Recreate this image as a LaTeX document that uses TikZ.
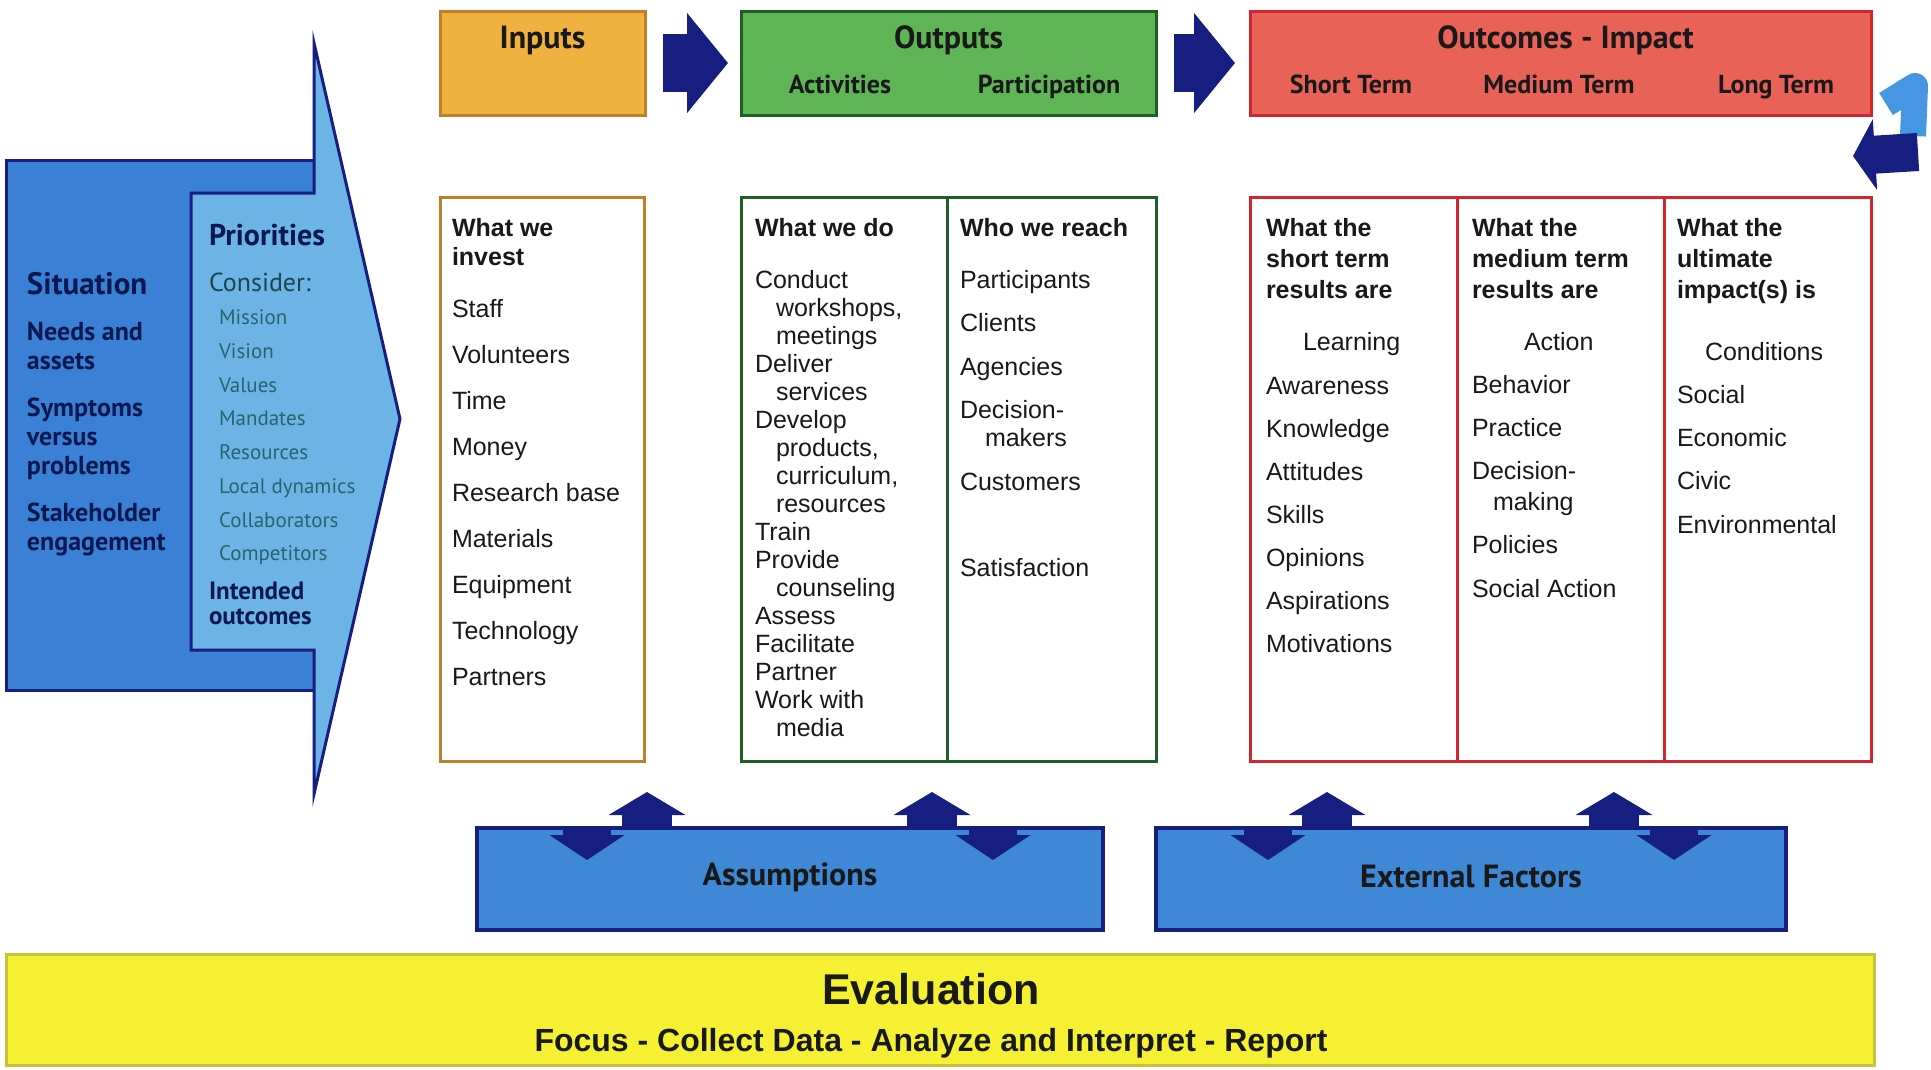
\documentclass[tikz,border=0pt]{standalone}
\usepackage{fontspec}
\setmainfont{Liberation Sans}
\newfontfamily\myriad{PT Sans}
\usepackage{xcolor}
\usepackage{tikz}
\usetikzlibrary{positioning, arrows.meta}

\definecolor{navy}{RGB}{22,30,128}
\definecolor{sitblue}{RGB}{58,128,212}
\definecolor{prioblue}{RGB}{108,180,230}
\definecolor{sittext}{RGB}{12,24,80}
\definecolor{prioitem}{RGB}{38,100,110}
\definecolor{infill}{RGB}{240,178,62}
\definecolor{inbord}{RGB}{190,128,40}
\definecolor{outfill}{RGB}{95,180,85}
\definecolor{outbord}{RGB}{28,96,38}
\definecolor{outcfill}{RGB}{232,98,88}
\definecolor{outcbord}{RGB}{205,40,48}
\definecolor{factblue}{RGB}{62,136,214}
\definecolor{turnlight}{RGB}{70,150,225}
\definecolor{evalfill}{RGB}{245,240,50}
\definecolor{evalbord}{RGB}{200,195,60}

\newcommand{\colindent}[1]{\hspace*{#1pt}}

\begin{document}
\begin{tikzpicture}[
    x=1pt, y=-1pt,
    every node/.style={inner sep=0pt, outer sep=0pt, text=black!90},
    hdrbox/.style={draw, line width=3pt, minimum height=104pt, anchor=north west},
    colbox/.style={draw, line width=3pt, fill=white, minimum height=564pt, anchor=north west},
    coltext/.style={anchor=north west, align=left, font=\fontsize{25}{28}\selectfont},
    ttl/.style={font=\myriad\bfseries\fontsize{32}{36}\selectfont},
    subttl/.style={anchor=base, font=\myriad\bfseries\fontsize{26}{30}\selectfont},
    factbox/.style={draw=navy, line width=4pt, fill=factblue, minimum height=102pt, anchor=north west},
    blockarrow/.style={navy, line width=58pt, -{Triangle[length=41pt,width=98pt]}},
    uparrow/.style={navy, line width=50pt, -{Triangle[length=23pt,width=76pt]}},
    downarrow/.style={navy, line width=48pt, -{Triangle[length=25pt,width=74pt]}}
]
\useasboundingbox (0,0) rectangle (1931,1069);

% situation and priorities
\node[draw=navy, line width=3pt, fill=sitblue, minimum width=308pt, minimum height=530pt, anchor=north west] (situation) at (6,160) {};
\draw[navy, line width=3pt, fill=prioblue] (191,193) -- (314,193) -- (314,43) -- (400,419)
    -- (314,794) -- (314,650) -- (191,650) -- cycle;

\node[anchor=base west, text=sittext, font=\myriad\bfseries\fontsize{31}{34}\selectfont] (sitttl) at (27,294) {Situation};
\node[anchor=north west, align=left, text=sittext, font=\myriad\bfseries\fontsize{26}{29}\selectfont] (sititems) at (27,322)
    {Needs and\\assets\\[18pt]Symptoms\\versus\\problems\\[18pt]Stakeholder\\engagement};

\node[anchor=base west, text=sittext, font=\myriad\bfseries\fontsize{30}{34}\selectfont] (priottl) at (209,245) {Priorities};
\node[anchor=base west, text=prioitem!70!black, font=\myriad\fontsize{26}{30}\selectfont] (consider) at (209,291) {Consider:};
\node[anchor=north west, align=left, text=prioitem, font=\myriad\fontsize{21}{33.7}\selectfont] (prioitems) at (219,310)
    {Mission\\Vision\\Values\\Mandates\\Resources\\Local dynamics\\Collaborators\\Competitors};
\node[anchor=north west, align=left, text=sittext, font=\myriad\bfseries\fontsize{25}{25}\selectfont] (intended) at (209,582)
    {Intended\\outcomes};

% header row
\node[hdrbox, fill=infill, draw=inbord, minimum width=205pt] (inhead) at (440,11) {};
\node[hdrbox, fill=outfill, draw=outbord, minimum width=415pt] (outhead) at (741,11) {};
\node[hdrbox, fill=outcfill, draw=outcbord, minimum width=621pt] (outchead) at (1250,11) {};

\node[ttl, anchor=base] at ([yshift=-37pt]inhead.north) {Inputs};
\node[ttl, anchor=base] at ([yshift=-37pt]outhead.north) {Outputs};
\node[subttl] at ([xshift=99pt, yshift=-82pt]outhead.north west) {Activities};
\node[subttl] at ([xshift=308pt, yshift=-82pt]outhead.north west) {Participation};
\node[ttl, anchor=base] at ([xshift=5pt, yshift=-37pt]outchead.north) {Outcomes - Impact};
\node[subttl] at ([xshift=101pt, yshift=-82pt]outchead.north west) {Short Term};
\node[subttl] at ([xshift=309pt, yshift=-82pt]outchead.north west) {Medium Term};
\node[subttl] at ([xshift=526pt, yshift=-82pt]outchead.north west) {Long Term};

\draw[blockarrow, shorten <=18pt, shorten >=13pt] (inhead) -- (outhead);
\draw[blockarrow, shorten <=18pt, shorten >=15pt] (outhead) -- (outchead);

% turn-around arrow
\coordinate (turnA) at (1886,104);
\coordinate (turnB) at (1915,86);
\coordinate (turnC) at (1913,136);
\coordinate (turnD) at (1918,152);
\coordinate (turnE) at (1853,156);
\draw[turnlight, line width=26pt, line join=round] (turnA) -- (turnB) -- (turnC);
\draw[navy, line width=38pt, -{Triangle[length=22pt,width=70pt]}] (turnD) -- (turnE);

% detail columns
\node[colbox, draw=inbord, minimum width=204pt] (invest) at (440,197) {};
\node[colbox, draw=outbord, minimum width=206pt] (actcol) at (741,197) {};
\node[colbox, draw=outbord, minimum width=209pt, right=0pt of actcol] (partcol) {};
\node[colbox, draw=outcbord, minimum width=207pt] (shortcol) at (1250,197) {};
\node[colbox, draw=outcbord, minimum width=207pt, right=0pt of shortcol] (medcol) {};
\node[colbox, draw=outcbord, minimum width=207pt, right=0pt of medcol] (longcol) {};

\node[coltext] at ([xshift=12pt, yshift=-21pt]invest.north west)
    {\textbf{What we}\\[1.5pt]\textbf{invest}\\[24pt]Staff\\[18pt]Volunteers\\[18pt]Time\\[18pt]Money\\[18pt]Research base\\[18pt]Materials\\[18pt]Equipment\\[18pt]Technology\\[18pt]Partners};
\node[coltext] at ([xshift=14pt, yshift=-21pt]actcol.north west)
    {\textbf{What we do}\\[24pt]Conduct\\\colindent{21}workshops,\\\colindent{21}meetings\\Deliver\\\colindent{21}services\\Develop\\\colindent{21}products,\\\colindent{21}curriculum,\\\colindent{21}resources\\Train\\Provide\\\colindent{21}counseling\\Assess\\Facilitate\\Partner\\Work with\\\colindent{21}media};
\node[coltext] at ([xshift=13pt, yshift=-21pt]partcol.north west)
    {\textbf{Who we reach}\\[24pt]Participants\\[15pt]Clients\\[16pt]Agencies\\[15pt]Decision-\\\colindent{25}makers\\[16pt]Customers\\[58pt]Satisfaction};
\node[coltext] at ([xshift=16pt, yshift=-21pt]shortcol.north west)
    {\textbf{What the}\\[3pt]\textbf{short term}\\[3pt]\textbf{results are}\\[24pt]\colindent{37}Learning\\[16pt]Awareness\\[15pt]Knowledge\\[15pt]Attitudes\\[15pt]Skills\\[15pt]Opinions\\[15pt]Aspirations\\[15pt]Motivations};
\node[coltext] at ([xshift=15pt, yshift=-21pt]medcol.north west)
    {\textbf{What the}\\[3pt]\textbf{medium term}\\[3pt]\textbf{results are}\\[24pt]\colindent{52}Action\\[15pt]Behavior\\[15pt]Practice\\[15pt]Decision-\\[3pt]\colindent{21}making\\[15pt]Policies\\[16pt]Social Action};
\node[coltext] at ([xshift=13pt, yshift=-21pt]longcol.north west)
    {\textbf{What the}\\[3pt]\textbf{ultimate}\\[3pt]\textbf{impact(s) is}\\[34pt]\colindent{28}Conditions\\[15pt]Social\\[15pt]Economic\\[15pt]Civic\\[16pt]Environmental};

% assumptions and external factors
\node[factbox, minimum width=626pt] (assume) at (477,828) {};
\node[factbox, minimum width=630pt] (extfact) at (1156,828) {};
\node[ttl] at ([yshift=2pt]assume.center) {Assumptions};
\node[ttl] at ([yshift=2pt]extfact.center) {External Factors};

\draw[uparrow] ([xshift=170pt, yshift=-2pt]assume.north west) -- ++(0,-38);
\draw[downarrow] ([xshift=110pt]assume.north west) -- ++(0,32);
\draw[uparrow] ([xshift=455pt, yshift=-2pt]assume.north west) -- ++(0,-38);
\draw[downarrow] ([xshift=516pt]assume.north west) -- ++(0,32);
\draw[uparrow] ([xshift=171pt, yshift=-2pt]extfact.north west) -- ++(0,-38);
\draw[downarrow] ([xshift=112pt]extfact.north west) -- ++(0,32);
\draw[uparrow] ([xshift=458pt, yshift=-2pt]extfact.north west) -- ++(0,-38);
\draw[downarrow] ([xshift=518pt]extfact.north west) -- ++(0,32);

% evaluation
\node[draw=evalbord, line width=3pt, fill=evalfill, minimum width=1868pt, minimum height=111pt, anchor=north west] (eval) at (6,954) {};
\node[font=\bfseries\fontsize{43}{48}\selectfont] (evalttl) at (931,989) {Evaluation};
\node[font=\bfseries\fontsize{32}{36}\selectfont] (evalsteps) at (931,1043) {Focus - Collect Data - Analyze and Interpret - Report};

\end{tikzpicture}
\end{document}
